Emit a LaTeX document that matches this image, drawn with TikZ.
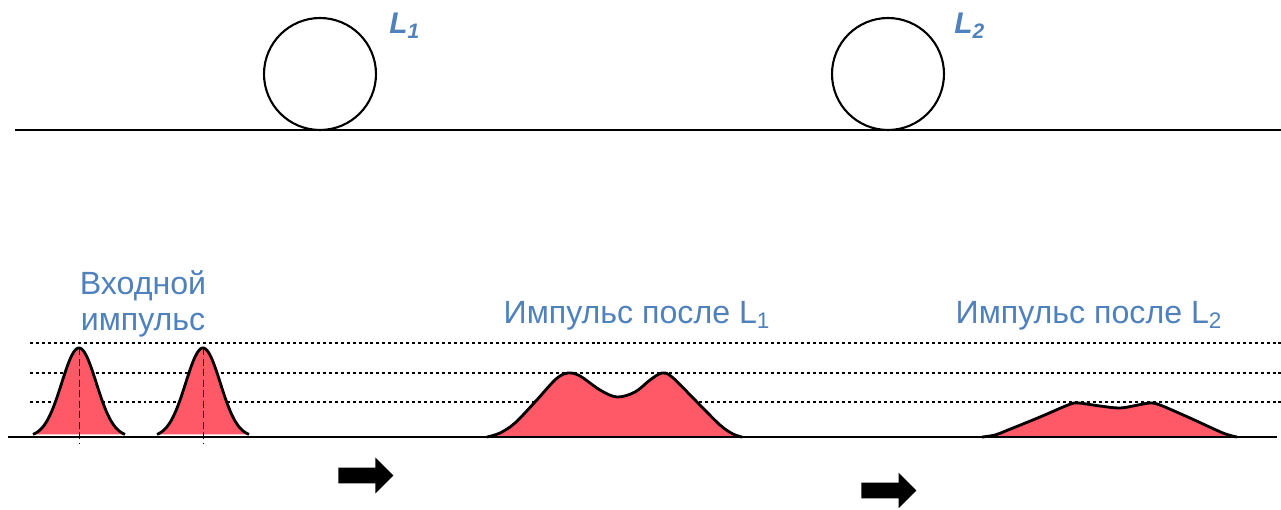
\documentclass[tikz,border=0pt]{standalone}
\usepackage{fontspec}
\setmainfont{Liberation Sans}
\usetikzlibrary{shapes.arrows}
\definecolor{capblue}{RGB}{79,129,189}
\definecolor{pulsered}{RGB}{255,88,102}
\tikzset{
  fiberline/.style={line width=1.3pt},
  fiberloop/.style={circle, draw, line width=1.2pt, minimum size=2.24cm, inner sep=0pt},
  looplabel/.style={text=capblue, font=\fontsize{17}{20}\selectfont\bfseries\itshape, anchor=base west, inner sep=0pt},
  pulselabel/.style={text=capblue, font=\fontsize{18.3}{20}\selectfont, align=center, anchor=base, inner sep=0pt},
  levelline/.style={line width=1.5pt, dash pattern=on 1.7pt off 1.7pt},
  pulse/.style={fill=pulsered, draw=black, line width=1.6pt},
  peakmark/.style={line width=0.5pt, dash pattern=on 4pt off 2pt},
  movearrow/.style={single arrow, fill=black, inner sep=0.15cm, minimum height=1.1cm,
    single arrow head extend=0.2cm, single arrow head indent=0pt, anchor=tail}
}
\begin{document}
\begin{tikzpicture}[x=0.02cm, y=-0.02cm]
  \useasboundingbox (0,0) rectangle (1281,510);

  % Fiber with two loops
  \draw[fiberline] (15,130) -- (1281,130);
  \node[fiberloop] (loopA) at (320,74) {};
  \node[fiberloop] (loopB) at (888,74) {};
  \node[looplabel] (labA) at (389,34) {L\textsubscript{1}};
  \node[looplabel] (labB) at (954,34) {L\textsubscript{2}};

  % Levels
  \foreach \lev in {343,373,402}
    \draw[levelline] (30,\lev) -- (1281,\lev);

  % Input pulses
  \foreach \pk in {79,203} {
    \path[pulse, domain=\pk-46:\pk+46, samples=60]
      plot (\x, {437-89*exp(-(\x-\pk)*(\x-\pk)/600)});
    \draw[peakmark] (\pk,348) -- (\pk,444);
  }

  % Pulse after L1
  \path[pulse] plot[smooth, tension=0.55] coordinates {(487,437) (500,433) (515,423) (535,402)
    (556,379) (568,373) (580,376) (600,390) (617,397) (635,392) (650,380) (662,373)
    (672,377) (697,402) (720,425) (733,434) (742,437)};

  % Pulse after L2
  \path[pulse] plot[smooth, tension=0.55] coordinates {(982,437) (995,435) (1008,430)
    (1040,417) (1068,405) (1078,403) (1100,406) (1120,408) (1138,405) (1150,403)
    (1160,405) (1190,418) (1223,433) (1237,437)};

  % Baseline
  \draw[fiberline] (8,437) -- (1277,437);

  \node[pulselabel] (inlab) at (143,330) {Входной\\импульс};
  \node[pulselabel] (outA) at (637,323) {Импульс после L\textsubscript{1}};
  \node[pulselabel] (outB) at (1089,323) {Импульс после L\textsubscript{2}};

  \node[movearrow] (moveA) at (338,475.5) {};
  \node[movearrow] (moveB) at (861,490.5) {};
\end{tikzpicture}
\end{document}
